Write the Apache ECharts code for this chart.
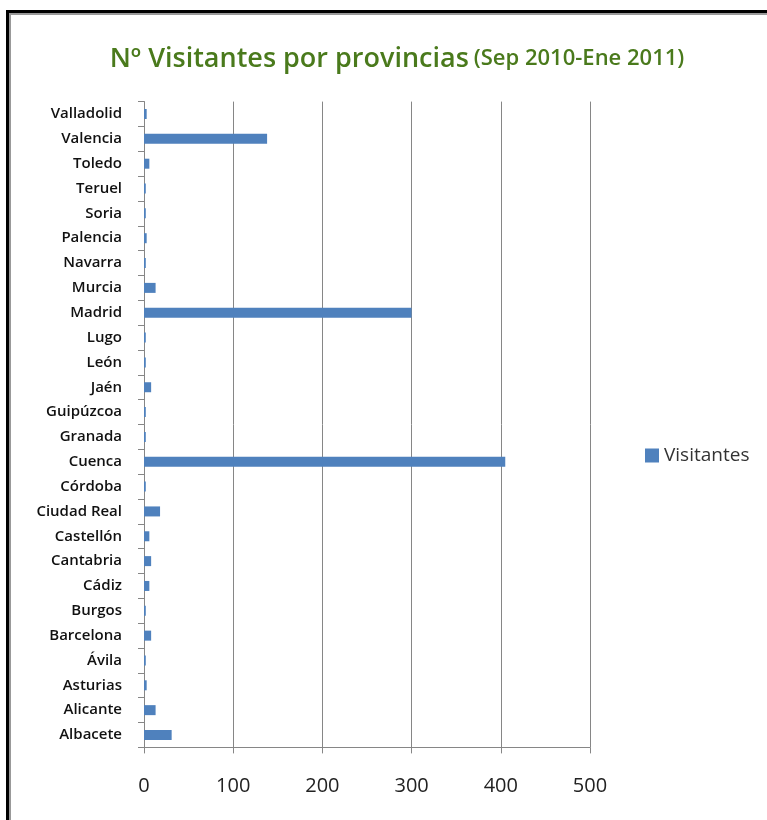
<!DOCTYPE html>
<html>
<head>
<meta charset="utf-8">
<script src="https://cdn.jsdelivr.net/npm/echarts@6/dist/echarts.min.js"></script>
<style>html,body{margin:0;padding:0;background:#fff}#c{width:767px;height:820px}</style>
</head>
<body>
<div id="c"></div>
<script>
const categories = ['Albacete','Alicante','Asturias','Ávila','Barcelona','Burgos','Cádiz','Cantabria','Castellón','Ciudad Real','Córdoba','Cuenca','Granada','Guipúzcoa','Jaén','León','Lugo','Madrid','Murcia','Navarra','Palencia','Soria','Teruel','Toledo','Valencia','Valladolid'];
const visitantes = [31,13,3,2,8,2,6,8,6,18,2,405,2,2,8,2,2,300,13,2,3,2,2,6,138,3];
const xTicks = [0,100,200,300,400,500];

const chart = echarts.init(document.getElementById('c'), null, {renderer:'canvas'});
const font = '"Open Sans", "Noto Sans", sans-serif';
chart.setOption({
  animation:false,
  backgroundColor:'#fff',
  title:{
    text:'{a|Nº Visitantes por provincias} {b|(Sep 2010-Ene 2011)}',
    left:392, top:54, textAlign:'center', textVerticalAlign:'middle',
    textStyle:{rich:{
      a:{fontFamily:font, fontSize:27, color:'#4a7a1c', fontWeight:600},
      b:{fontFamily:font, fontSize:22, color:'#4a7a1c', fontWeight:600}
    }}
  },
  legend:{
    data:['Visitantes'], left:640, top:441, itemWidth:14, itemHeight:14, itemGap:6,
    icon:'rect', textStyle:{fontFamily:font, fontSize:19, color:'#333'}
  },
  grid:{left:144, right:177, top:101.6, bottom:72.6},
  xAxis:{
    type:'value', min:0, max:500, interval:100,
    axisLine:{show:true, lineStyle:{color:'#868686'}},
    axisTick:{show:true, length:6, lineStyle:{color:'#868686'}},
    splitLine:{show:true, lineStyle:{color:'#868686'}},
    axisLabel:{fontFamily:font, fontSize:20, color:'#222', margin:29,
      formatter:v=>xTicks.includes(v)?String(v):''}
  },
  yAxis:{
    type:'category', data:categories,
    axisLine:{show:true, lineStyle:{color:'#868686'}},
    axisTick:{show:true, length:6, lineStyle:{color:'#868686'}},
    axisLabel:{fontFamily:font, fontSize:15, color:'#111', margin:22, fontWeight:600},
    splitLine:{show:false}
  },
  series:[{
    name:'Visitantes', type:'bar', data:visitantes, barWidth:10,
    itemStyle:{color:'#4f81bd'}
  }],
  graphic:[
    {type:'rect', shape:{x:6, y:10, width:761, height:3}, style:{fill:'#000'}},
    {type:'rect', shape:{x:9, y:13, width:758, height:2}, style:{fill:'#999'}},
    {type:'rect', shape:{x:6, y:10, width:3, height:810}, style:{fill:'#000'}},
    {type:'rect', shape:{x:9, y:13, width:2, height:807}, style:{fill:'#999'}}
  ]
});
</script>
</body>
</html>
